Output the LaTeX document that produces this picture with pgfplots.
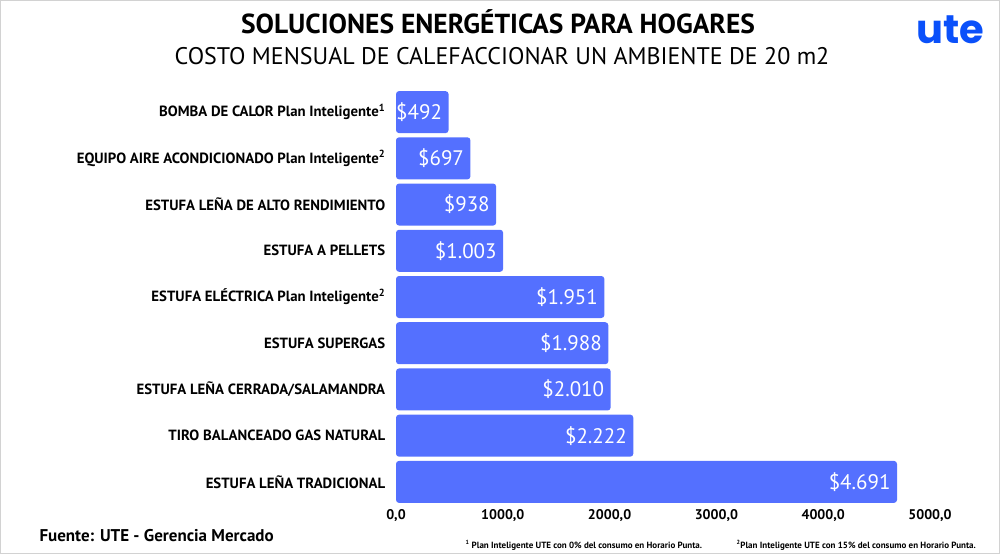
\documentclass[border=0pt]{standalone}
\usepackage{fontspec}
\setmainfont{PT Sans}
\newfontfamily\logofont{Poppins}
\usepackage{pgfplots}
\pgfplotsset{compat=1.18}
\definecolor{barblue}{RGB}{84,112,255}
\definecolor{uteblue}{RGB}{10,80,250}
\begin{document}
\begin{tikzpicture}[x=1pt,y=1pt]
\useasboundingbox (0,0) rectangle (1000,554);
\draw[gray!35, line width=1pt] (0.5,0.5) rectangle (999.5,553.5);
\node[font=\bfseries\fontsize{27.5}{31}\selectfont] at (498,532) {SOLUCIONES ENERGÉTICAS PARA HOGARES};
\node[font=\fontsize{24}{28}\selectfont] at (502,498) {COSTO MENSUAL DE CALEFACCIONAR UN AMBIENTE DE 20 m2};
\node[font=\logofont\bfseries\fontsize{40}{44}\selectfont, text=uteblue] at (950,524) {ute};
\node[font=\bfseries\fontsize{17}{20}\selectfont, anchor=west] at (36,18) {Fuente: UTE - Gerencia Mercado};
\node[font=\bfseries\fontsize{9}{10}\selectfont, anchor=west] at (462,9) {\textsuperscript{1} Plan Inteligente UTE con 0\% del consumo en Horario Punta.};
\node[font=\bfseries\fontsize{9}{10}\selectfont, anchor=west] at (733,9) {\textsuperscript{2}Plan Inteligente UTE con 15\% del consumo en Horario Punta.};
\begin{axis}[
  at={(396pt,49pt)}, anchor=south west,
  scale only axis, width=534pt, height=416pt,
  xmin=0, xmax=5000, ymin=-0.5, ymax=8.5, y dir=reverse,
  xbar, bar width=42pt,
  axis line style={draw=none}, tick style={draw=none},
  xtick={0,1000,2000,3000,4000,5000},
  xticklabels={{0,0},{1000,0},{2000,0},{3000,0},{4000,0},{5000,0}},
  xticklabel style={font=\bfseries\fontsize{14}{16}\selectfont, yshift=-1pt},
  ytick={0,...,8},
  yticklabels={
    {BOMBA DE CALOR Plan Inteligente\textsuperscript{1}},
    {EQUIPO AIRE ACONDICIONADO Plan Inteligente\textsuperscript{2}},
    {ESTUFA LEÑA DE ALTO RENDIMIENTO},
    {ESTUFA A PELLETS},
    {ESTUFA ELÉCTRICA Plan Inteligente\textsuperscript{2}},
    {ESTUFA SUPERGAS},
    {ESTUFA LEÑA CERRADA/SALAMANDRA},
    {TIRO BALANCEADO GAS NATURAL},
    {ESTUFA LEÑA TRADICIONAL}},
  yticklabel style={font=\bfseries\fontsize{14.8}{17}\selectfont, xshift=-3pt},
  point meta=explicit symbolic,
  nodes near coords,
  every node near coord/.append style={anchor=east, xshift=-3pt, text=white, font=\fontsize{21}{24}\selectfont},
  clip=false,
]
\addplot[fill=barblue, draw=none, rounded corners=3pt] coordinates {
  (492,0) [\$492]
  (697,1) [\$697]
  (938,2) [\$938]
  (1003,3) [\$1.003]
  (1951,4) [\$1.951]
  (1988,5) [\$1.988]
  (2010,6) [\$2.010]
  (2222,7) [\$2.222]
  (4691,8) [\$4.691]
};
\end{axis}
\end{tikzpicture}
\end{document}
